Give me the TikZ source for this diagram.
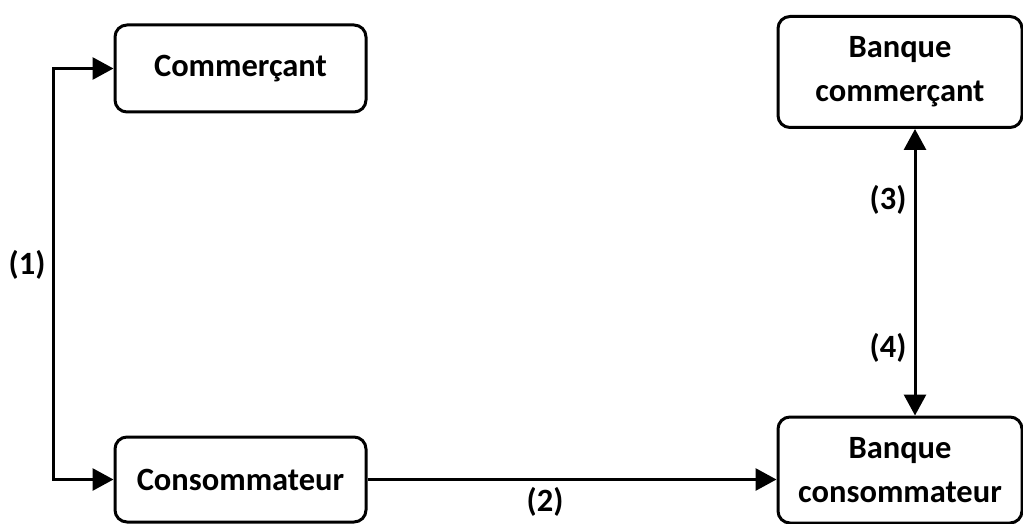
\documentclass[tikz,border=0pt]{standalone}
\usepackage{fontspec}
\setmainfont{Carlito}
\usetikzlibrary{arrows.meta}
\tikzset{
  box/.style={draw,line width=3pt,rounded corners=12pt,align=center,inner sep=0pt},
  lab/.style={inner sep=0pt},
  arr/.style={line width=3pt,-{Triangle[length=21pt,width=22pt]}},
  darr/.style={line width=3pt,{Triangle[length=21pt,width=22pt]}-{Triangle[length=21pt,width=22pt]}}
}
\begin{document}
\begin{tikzpicture}[x=1pt,y=-1pt,font=\fontsize{32.5}{44}\selectfont\bfseries]
\useasboundingbox (0,0) rectangle (1023,524);
\node[box,minimum width=251pt,minimum height=87pt] (comm) at (240.5,68.5) {Commerçant};
\node[box,minimum width=244pt,minimum height=111pt] (bcomm) at (900,72) {Banque\\commerçant};
\node[box,minimum width=251pt,minimum height=85pt] (cons) at (240.5,479.5) {Consommateur};
\node[box,minimum width=244pt,minimum height=106pt] (bcons) at (900,470) {Banque\\consommateur};
\coordinate (lt) at (53,68.5);
\draw[darr] (comm.west) -- (lt) |- (cons.west);
\draw[arr] (cons.east) -- (cons.east -| bcons.west);
\draw[darr] ([xshift=15pt]bcomm.south) -- ([xshift=15pt]bcons.north);
\node[lab] (l1) at (27,265) {(1)};
\node[lab] (l2) at (545,502) {(2)};
\node[lab] (l3) at (888,200) {(3)};
\node[lab] (l4) at (888,348) {(4)};
\end{tikzpicture}
\end{document}
